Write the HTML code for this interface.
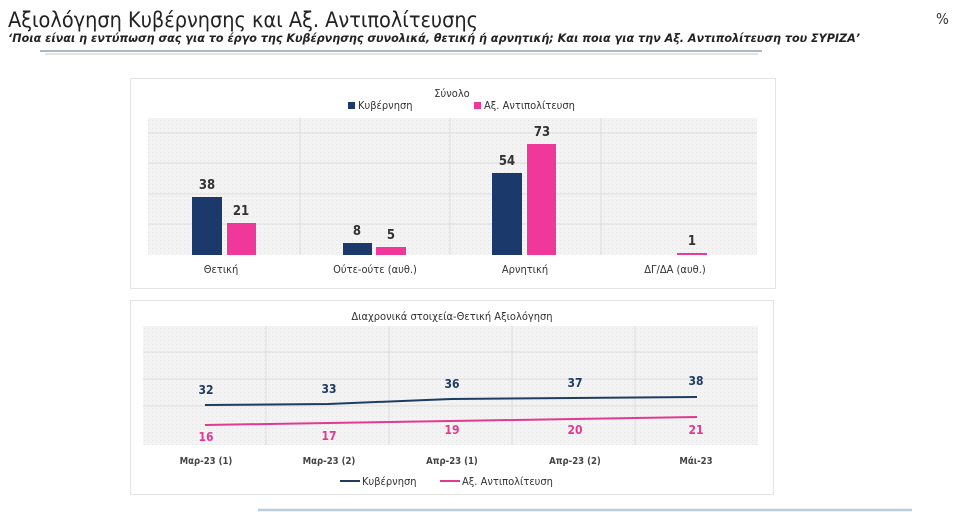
<!DOCTYPE html>
<html><head><meta charset="utf-8"><style>
body{margin:0;width:960px;height:514px;background:#fff;overflow:hidden;font-family:"Liberation Sans","DejaVu Sans",sans-serif;}
</style></head><body>
<svg width="960" height="514" xmlns="http://www.w3.org/2000/svg" font-family="'DejaVu Sans Condensed','Liberation Sans',sans-serif">
<defs>
<pattern id="g" width="4" height="4" patternUnits="userSpaceOnUse"><rect width="4" height="4" fill="#f3f3f3"/><rect width="1" height="1" fill="#e4e4e4"/></pattern>
</defs>
<text x="8" y="27" font-size="21" fill="#222" textLength="470" lengthAdjust="spacingAndGlyphs">Αξιολόγηση Κυβέρνησης και Αξ. Αντιπολίτευσης</text>
<text x="936" y="24" font-size="15" fill="#333">%</text>
<text x="8" y="42" font-size="11.5" font-style="italic" font-weight="bold" fill="#222" textLength="852" lengthAdjust="spacingAndGlyphs">‘Ποια είναι η εντύπωση σας για το έργο της Κυβέρνησης συνολικά, θετική ή αρνητική; Και ποια για την Αξ. Αντιπολίτευση του ΣΥΡΙΖΑ’</text>
<line x1="40" y1="51" x2="762" y2="51" stroke="#aab8c4" stroke-width="2"/>
<line x1="45" y1="54" x2="758" y2="54" stroke="#e4e4e4" stroke-width="2"/>
<line x1="258" y1="510" x2="912" y2="510" stroke="#bcd" stroke-width="2.5"/>
<!-- top panel -->
<rect x="130.5" y="78.5" width="645" height="210" fill="#fff" stroke="#e4e4e4"/>
<text x="452" y="97" font-size="11" text-anchor="middle" fill="#333">Σύνολο</text>
<rect x="348" y="102" width="7" height="7" fill="#1b3a6b"/><text x="358" y="109" font-size="11" fill="#333">Κυβέρνηση</text>
<rect x="474" y="102" width="7" height="7" fill="#f0379a"/><text x="484" y="109" font-size="11" fill="#333">Αξ. Αντιπολίτευση</text>
<rect x="148" y="118" width="609" height="137" fill="url(#g)"/>
<g stroke="#dcdcdc" stroke-width="1">
<line x1="148" y1="133" x2="757" y2="133"/><line x1="148" y1="163" x2="757" y2="163"/><line x1="148" y1="194" x2="757" y2="194"/><line x1="148" y1="224" x2="757" y2="224"/>
<line x1="300" y1="118" x2="300" y2="255"/><line x1="450" y1="118" x2="450" y2="255"/><line x1="601" y1="118" x2="601" y2="255"/>
</g>
<g fill="#1b3a6b"><rect x="192" y="197" width="30" height="58"/><rect x="343" y="243" width="29" height="12"/><rect x="492" y="173" width="30" height="82"/></g>
<g fill="#f0379a"><rect x="227" y="223" width="29" height="32"/><rect x="376" y="247" width="30" height="8"/><rect x="527" y="144" width="29" height="111"/><rect x="677" y="253" width="30" height="2"/></g>
<g font-size="13" font-weight="bold" fill="#333" text-anchor="middle">
<text x="207" y="189">38</text><text x="241" y="215">21</text><text x="357" y="235">8</text><text x="391" y="239">5</text><text x="507" y="165">54</text><text x="542" y="136">73</text><text x="692" y="245">1</text>
</g>
<g font-size="11" fill="#333" text-anchor="middle">
<text x="221" y="273">Θετική</text><text x="375" y="273">Ούτε-ούτε (αυθ.)</text><text x="525" y="273">Αρνητική</text><text x="675" y="273">ΔΓ/ΔΑ (αυθ.)</text>
</g>
<!-- bottom panel -->
<rect x="130.5" y="300.5" width="643" height="194" fill="#fff" stroke="#e4e4e4"/>
<text x="452" y="320" font-size="11" text-anchor="middle" fill="#333">Διαχρονικά στοιχεία-Θετική Αξιολόγηση</text>
<rect x="143" y="326" width="615" height="119" fill="url(#g)"/>
<g stroke="#dcdcdc"><line x1="143" y1="352" x2="758" y2="352"/><line x1="143" y1="379" x2="758" y2="379"/><line x1="143" y1="406" x2="758" y2="406"/>
<line x1="266" y1="326" x2="266" y2="445"/><line x1="389" y1="326" x2="389" y2="445"/><line x1="512" y1="326" x2="512" y2="445"/><line x1="635" y1="326" x2="635" y2="445"/></g>
<polyline points="205,405 328,404 451,399 574,398 697,397" fill="none" stroke="#1f3c63" stroke-width="2"/>
<polyline points="205,425 328,423 451,421 574,419 697,417" fill="none" stroke="#e33a91" stroke-width="2"/>
<g font-size="12" font-weight="bold" fill="#1f3c63" text-anchor="middle"><text x="206" y="394">32</text><text x="329" y="393">33</text><text x="452" y="388">36</text><text x="575" y="387">37</text><text x="696" y="385">38</text></g>
<g font-size="12" font-weight="bold" fill="#e33a91" text-anchor="middle"><text x="206" y="441">16</text><text x="329" y="440">17</text><text x="452" y="434">19</text><text x="575" y="434">20</text><text x="696" y="434">21</text></g>
<g font-size="9.5" font-weight="bold" fill="#444" text-anchor="middle"><text x="206" y="464">Μαρ-23 (1)</text><text x="329" y="464">Μαρ-23 (2)</text><text x="452" y="464">Απρ-23 (1)</text><text x="575" y="464">Απρ-23 (2)</text><text x="696" y="464">Μάι-23</text></g>
<line x1="340" y1="481" x2="360" y2="481" stroke="#1f3c63" stroke-width="2"/><text x="362" y="485" font-size="11" fill="#333">Κυβέρνηση</text>
<line x1="440" y1="481" x2="460" y2="481" stroke="#e33a91" stroke-width="2"/><text x="462" y="485" font-size="11" fill="#333">Αξ. Αντιπολίτευση</text>
</svg>
</body></html>
